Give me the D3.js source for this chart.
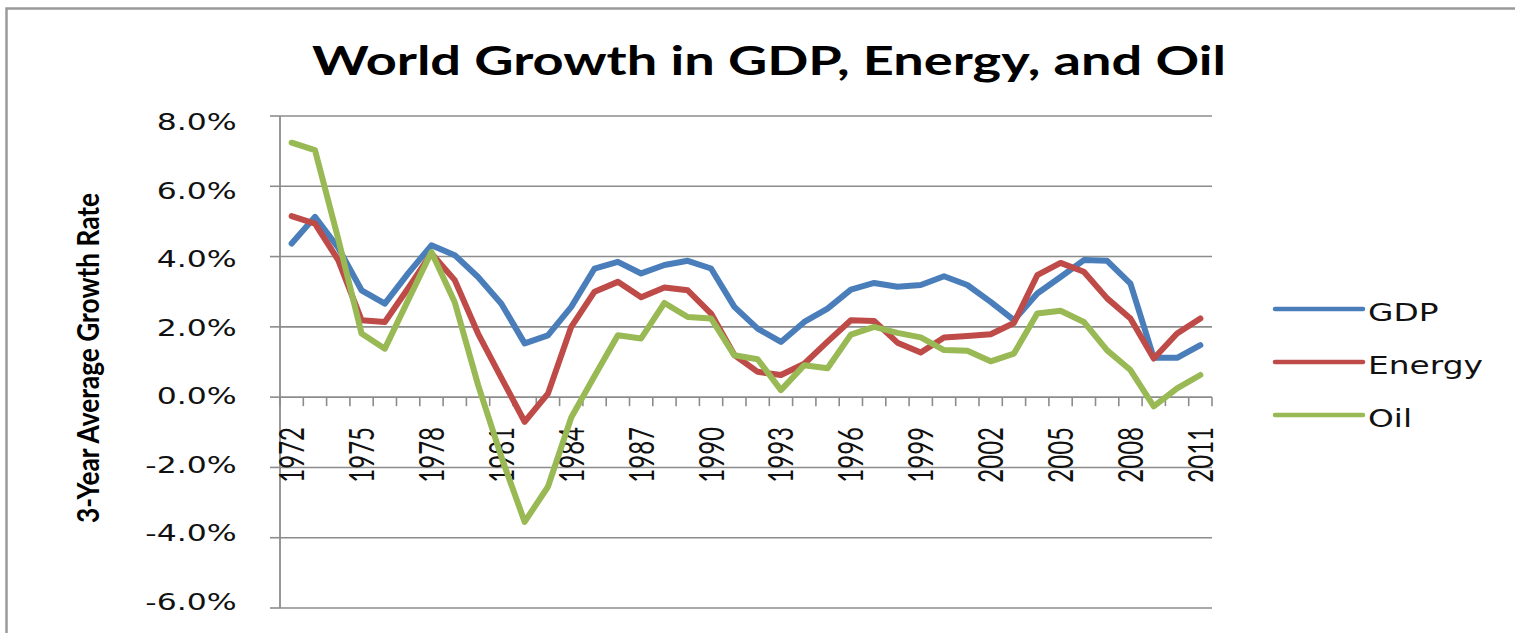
<!DOCTYPE html>
<html><head><meta charset="utf-8">
<script src="https://cdn.jsdelivr.net/npm/d3@7"></script>
<style>html,body{margin:0;padding:0;background:#fff;overflow:hidden}</style>
</head><body>
<svg id="chart" width="1515" height="633"></svg>
<script>
const years = [1972,1973,1974,1975,1976,1977,1978,1979,1980,1981,1982,1983,1984,1985,1986,1987,1988,1989,1990,1991,
               1992,1993,1994,1995,1996,1997,1998,1999,2000,2001,2002,2003,2004,2005,2006,2007,2008,2009,2010,2011];
const gdp    = [4.37,5.13,4.25,3.04,2.66,3.52,4.32,4.04,3.42,2.66,1.53,1.76,2.57,3.66,3.85,3.52,3.76,3.88,3.66,2.57,
                1.95,1.57,2.14,2.52,3.06,3.25,3.14,3.19,3.44,3.19,2.71,2.19,2.95,3.42,3.90,3.88,3.23,1.12,1.12,1.48];
const energy = [5.15,4.94,3.90,2.19,2.14,3.10,4.09,3.33,1.81,0.55,-0.70,0.10,2.00,3.00,3.28,2.84,3.12,3.04,2.38,1.20,
                0.72,0.63,0.95,1.58,2.19,2.17,1.55,1.27,1.70,1.74,1.79,2.11,3.47,3.82,3.57,2.81,2.24,1.10,1.81,2.24];
const oil    = [7.24,7.03,4.50,1.81,1.38,2.76,4.13,2.70,0.35,-1.70,-3.55,-2.55,-0.58,0.60,1.76,1.67,2.68,2.28,2.24,1.19,
                1.08,0.20,0.91,0.82,1.78,2.00,1.83,1.70,1.34,1.32,1.02,1.24,2.38,2.46,2.14,1.33,0.77,-0.26,0.25,0.63];
const seriesNames  = ["GDP","Energy","Oil"];
const seriesColors = ["#4A7EBB","#BE4B48","#98B954"];
const yTickValues  = [-6,-4,-2,0,2,4,6,8];
const yTickLabels  = ["-6.0%","-4.0%","-2.0%","0.0%","2.0%","4.0%","6.0%","8.0%"];
const xLabelYears  = [1972,1975,1978,1981,1984,1987,1990,1993,1996,1999,2002,2005,2008,2011];
const titleText    = "World Growth in GDP, Energy, and Oil";
const yAxisTitle   = "3-Year Average Growth Rate";

const W = 1515, H = 633;
const svg = d3.select("#chart");
svg.append("rect").attr("width", W).attr("height", H).attr("fill", "#fff");
svg.append("path").attr("d", `M6.5,${H + 5} V8.5 H${W + 5}`)
  .attr("fill", "none").attr("stroke", "#9a9a9a").attr("stroke-width", 2.5);

const plot = {left: 280, right: 1212, top: 116, bottom: 608};
const x = d3.scaleBand().domain(years).range([plot.left, plot.right]).padding(0);
const y = d3.scaleLinear().domain([-6, 8]).range([plot.bottom, plot.top]);
const yLab = d3.scaleLinear().domain([-6, 8]).range([601.7, 121.7]);
const cx = d => x(d) + x.bandwidth() / 2;
const gridColor = "#8c8c8c";

// gridlines
svg.append("g").selectAll("line").data(yTickValues).join("line")
  .attr("x1", plot.left).attr("x2", plot.right)
  .attr("y1", d => y(d)).attr("y2", d => y(d))
  .attr("stroke", gridColor).attr("stroke-width", 1.6);

// y axis
svg.append("line").attr("x1", plot.left).attr("x2", plot.left)
  .attr("y1", plot.top).attr("y2", plot.bottom)
  .attr("stroke", gridColor).attr("stroke-width", 1.8);
svg.append("g").selectAll("line").data(yTickValues).join("line")
  .attr("x1", plot.left - 10).attr("x2", plot.left)
  .attr("y1", d => y(d)).attr("y2", d => y(d))
  .attr("stroke", gridColor).attr("stroke-width", 1.6);

// x axis ticks at category boundaries
const bounds = [x(years[0])].concat(years.map(d => x(d) + x.bandwidth()));
svg.append("g").selectAll("line").data(bounds).join("line")
  .attr("x1", d => d).attr("x2", d => d)
  .attr("y1", y(0)).attr("y2", y(0) + 9)
  .attr("stroke", gridColor).attr("stroke-width", 1.6);

// y tick labels
const yl = svg.append("g").selectAll("g").data(yTickValues).join("g");
const ylt = yl.append("text").text((d, i) => yTickLabels[i])
  .attr("text-anchor", "end").attr("dy", "0.36em")
  .attr("font-family", "DejaVu Sans").attr("font-size", 23).attr("fill", "#111");
const refLen = ylt.filter(d => d === 8).node().getComputedTextLength();
const sxY = 80 / refLen;
yl.attr("transform", d => `translate(236.7,${yLab(d)}) scale(${sxY},1)`);

// x labels (rotated)
svg.append("g").selectAll("text").data(xLabelYears).join("text")
  .text(d => String(d))
  .attr("transform", d => `translate(${cx(d)},427) rotate(-90) scale(1,1.45)`)
  .attr("text-anchor", "end").attr("dy", "0.36em")
  .attr("font-family", "Lato").attr("font-size", 24).attr("fill", "#111");

// y axis title
svg.append("text").text(yAxisTitle)
  .attr("transform", "translate(88,358) rotate(-90) scale(1,1.45)")
  .attr("text-anchor", "middle").attr("dy", "0.35em")
  .attr("font-family", "Lato").attr("font-weight", "bold").attr("font-size", 21)
  .attr("textLength", 330).attr("lengthAdjust", "spacingAndGlyphs").attr("fill", "#000");

// title
const tg = svg.append("g");
const tt = tg.append("text").text(titleText)
  .attr("text-anchor", "middle")
  .attr("font-family", "Lato").attr("font-weight", "bold").attr("font-size", 41).attr("fill", "#000");
const tsx = 914 / tt.node().getComputedTextLength();
tg.attr("transform", `translate(769,75) scale(${tsx},1)`);

// series
const seriesData = [gdp, energy, oil];
const line = d3.line().x((d, i) => cx(years[i])).y(d => y(d));
svg.append("g").selectAll("path").data(seriesData).join("path")
  .attr("d", d => line(d))
  .attr("fill", "none").attr("stroke", (d, i) => seriesColors[i])
  .attr("stroke-width", 6).attr("stroke-linejoin", "round").attr("stroke-linecap", "round");

// legend
const legY = d3.scaleLinear().domain([0, 1]).range([309, 362]);
const lg = svg.append("g").selectAll("g").data(seriesNames).join("g")
  .attr("transform", (d, i) => `translate(0,${legY(i)})`);
lg.append("line").attr("x1", 1275).attr("x2", 1363).attr("y1", 0).attr("y2", 0)
  .attr("stroke", (d, i) => seriesColors[i]).attr("stroke-width", 4.5).attr("stroke-linecap", "round");
const ltg = lg.append("g");
const ltx = ltg.append("text").text(d => d).attr("dy", "0.35em")
  .attr("font-family", "DejaVu Sans").attr("font-size", 25).attr("fill", "#111");
const eLen = ltx.filter(d => d === "Energy").node().getComputedTextLength();
const sxL = 115 / eLen;
ltg.attr("transform", `translate(1368,3) scale(${sxL},1)`);
</script>
</body></html>
